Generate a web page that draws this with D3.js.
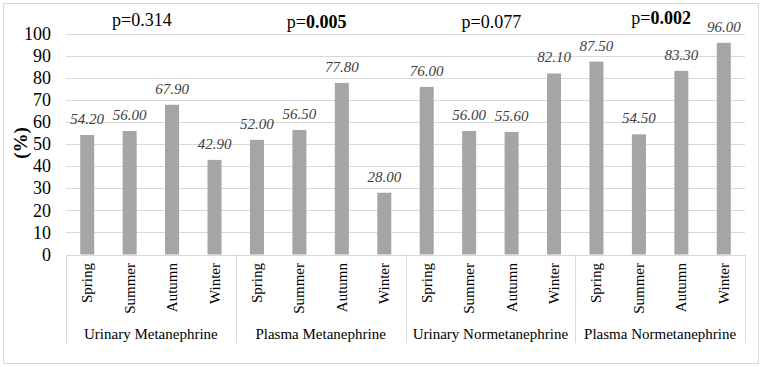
<!DOCTYPE html>
<html><head><meta charset="utf-8">
<script src="https://cdn.jsdelivr.net/npm/d3@7"></script>
</head><body style="margin:0">
<script>
const groups = ["Urinary Metanephrine","Plasma Metanephrine","Urinary Normetanephrine","Plasma Normetanephrine"];
const seasons = ["Spring","Summer","Autumn","Winter"];
const values = [
  [54.20,56.00,67.90,42.90],
  [52.00,56.50,77.80,28.00],
  [76.00,56.00,55.60,82.10],
  [87.50,54.50,83.30,96.00]
];
const pPrefix = ["p=","p=","p=","p="];
const pValues = ["0.314","0.005","0.077","0.002"];
const pBold = [false,true,false,true];
const yTicks = [0,10,20,30,40,50,60,70,80,90,100];

(function(){
const W=762,H=367;
const FF="Liberation Serif";
const pDx=[-9,-4,1,1], pY=[26,28,28,24];
const svg=d3.select("body").append("svg").attr("width",W).attr("height",H)
  .attr("font-family",FF).style("font-family",`"${FF}"`);
svg.append("rect").attr("x",3.5).attr("y",3.5).attr("width",755).attr("height",360)
  .attr("fill","#fff").attr("stroke","#d9d9d9");

const pLeft=66,pRight=745,pTop=34,pBottom=254.5;
const y=d3.scaleLinear().domain([0,100]).range([pBottom,pTop]);
const flat=[];
values.forEach((row,gi)=>row.forEach((v,si)=>flat.push({g:gi,s:si,v,key:gi+"-"+si})));
const x=d3.scaleBand().domain(flat.map(d=>d.key)).range([pLeft,pRight]).paddingInner(0.67).paddingOuter(0.335);
const gx=d3.scaleBand().domain(groups).range([pLeft,pRight]);

svg.append("g").selectAll("line").data(yTicks).join("line")
  .attr("x1",pLeft).attr("x2",pRight).attr("y1",d=>Math.round(y(d))+0.5).attr("y2",d=>Math.round(y(d))+0.5)
  .attr("stroke","#d9d9d9").attr("stroke-width",1);

svg.append("g").selectAll("text").data(yTicks).join("text")
  .attr("x",51).attr("y",d=>y(d)).attr("dy","0.34em").attr("text-anchor","end")
  .attr("font-size",18).attr("fill","#000").style("font-family",`"${FF}"`).text(d=>d);

svg.append("text").attr("transform","translate(27,143) rotate(-90)").attr("text-anchor","middle")
  .attr("font-size",19).attr("font-weight","bold").style("font-family",`"${FF}"`).text("(%)");

svg.append("g").selectAll("rect").data(flat).join("rect")
  .attr("x",d=>x(d.key)).attr("width",x.bandwidth())
  .attr("y",d=>y(d.v)).attr("height",d=>y(0)-y(d.v)).attr("fill","#a5a5a5");

svg.append("g").selectAll("text").data(flat).join("text")
  .attr("x",d=>x(d.key)+x.bandwidth()/2).attr("y",d=>y(d.v)-11)
  .attr("text-anchor","middle").attr("font-size",15).attr("font-style","italic")
  .style("font-family",`"${FF}"`).attr("fill","#404040").text(d=>d.v.toFixed(2));

const seps=groups.map(g=>gx(g)).concat([pRight]);
svg.append("g").selectAll("line").data(seps).join("line")
  .attr("x1",d=>Math.round(d)+0.5).attr("x2",d=>Math.round(d)+0.5).attr("y1",pBottom).attr("y2",343)
  .attr("stroke","#d9d9d9");

svg.append("g").selectAll("text").data(flat).join("text")
  .attr("transform",d=>`translate(${x(d.key)+x.bandwidth()/2+5},263) rotate(-90)`)
  .attr("text-anchor","end").attr("font-size",15).style("font-family",`"${FF}"`).attr("fill","#000")
  .text(d=>seasons[d.s]);

svg.append("g").selectAll("text").data(groups).join("text")
  .attr("x",d=>gx(d)+gx.bandwidth()/2).attr("y",339).attr("text-anchor","middle")
  .attr("font-size",15).style("font-family",`"${FF}"`).attr("fill","#000").text(d=>d);

const pt=svg.append("g").selectAll("text").data(groups).join("text")
  .attr("x",(d,i)=>gx(d)+gx.bandwidth()/2+pDx[i]).attr("y",(d,i)=>pY[i]).attr("text-anchor","middle")
  .attr("font-size",18).style("font-family",`"${FF}"`).attr("fill","#000");
pt.append("tspan").text((d,i)=>pPrefix[i]);
pt.append("tspan").attr("font-weight",(d,i)=>pBold[i]?"bold":"normal").text((d,i)=>pValues[i]);
})();
</script>
</body></html>
